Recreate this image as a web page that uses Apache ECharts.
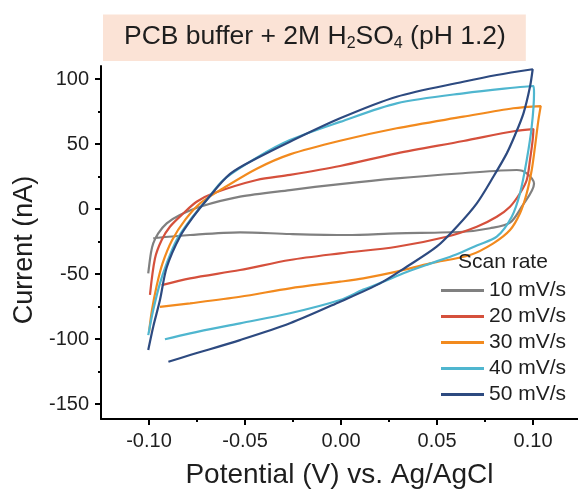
<!DOCTYPE html>
<html><head><meta charset="utf-8">
<script src="https://cdn.jsdelivr.net/npm/echarts@6/dist/echarts.min.js"></script>
<style>html,body{margin:0;padding:0;background:#fff}#c{width:578px;height:496px}</style>
</head><body><div id="c"></div>
<script>
const seriesNames = ['10 mV/s','20 mV/s','30 mV/s','40 mV/s','50 mV/s'];
// [potential (V), current (nA)] – forward sweep then reverse sweep
const cv10 = [[-0.1004,-49.5],[-0.099,-33.8],[-0.0978,-26.4],[-0.0952,-18.7],[-0.0908,-11],[-0.0839,-4.6],[-0.0734,1.8],[-0.0526,9.5],[-0.0266,14.6],[-0.0005,19.2],[0.029,23.6],[0.0635,27.5],[0.0915,30],[0.0967,27.5],[0.1005,19.5],[0.0941,1.8],[0.088,-10.5],[0.0776,-14.8],[0.0635,-17.5],[0.029,-18.7],[0.003,-20],[-0.0266,-19.2],[-0.0526,-17.9],[-0.0786,-20],[-0.0978,-22.5]];
const cv20 = [[-0.0995,-66],[-0.0969,-38],[-0.0934,-23.8],[-0.0891,-13.6],[-0.0821,-3.3],[-0.0752,5.6],[-0.0665,12.1],[-0.0439,22.3],[-0.0266,26.2],[-0.0005,33.1],[0.029,42.8],[0.0637,52.3],[0.0906,60],[0.1002,61.5],[0.0998,53.1],[0.0984,37.7],[0.0967,22.3],[0.0932,12.1],[0.088,1.8],[0.0811,-5.9],[0.0707,-13.6],[0.055,-21.3],[0.029,-29],[-0.0005,-34.1],[-0.0266,-39.2],[-0.0526,-46.9],[-0.0786,-53.3],[-0.0934,-58.5]];
const cv30 = [[-0.1,-95],[-0.0985,-78],[-0.096,-59],[-0.093,-42],[-0.088,-24],[-0.081,-8],[-0.0734,4.4],[-0.0613,16],[-0.0439,31],[-0.0266,42],[-0.0005,52.5],[0.029,62.1],[0.0637,71],[0.0897,77.5],[0.104,79.2],[0.1028,68.5],[0.101,47.9],[0.0993,30],[0.0967,12.1],[0.0932,-3.3],[0.088,-16.2],[0.0793,-26.4],[0.0672,-35.4],[0.0464,-41.8],[0.029,-48.2],[0.0116,-53.3],[-0.0005,-55.9],[-0.0266,-61],[-0.0526,-67.5],[-0.0786,-72.5],[-0.0943,-75.2]];
const cv40 = [[-0.1004,-97],[-0.0978,-77.7],[-0.0943,-57.2],[-0.0908,-41.8],[-0.0856,-23.8],[-0.0786,-8.5],[-0.07,6.9],[-0.0613,22.3],[-0.0439,39.5],[-0.0266,53],[-0.0005,67],[0.029,81.3],[0.0637,89],[0.1002,94.6],[0.1005,89],[0.0993,63.3],[0.0967,37.7],[0.0932,12.1],[0.0889,-5.9],[0.0811,-21.3],[0.0707,-28],[0.06,-35],[0.0464,-42],[0.0342,-48.5],[0.0203,-57],[0.0116,-62],[-0.0005,-70],[-0.0266,-80.2],[-0.0526,-87.9],[-0.0786,-95.6],[-0.0917,-100.2]];
const cv50 = [[-0.1004,-108.5],[-0.0978,-90.5],[-0.0943,-70],[-0.0908,-45],[-0.0839,-21.3],[-0.0769,-5.9],[-0.07,6.9],[-0.0578,27],[-0.0439,39],[-0.0266,51.8],[-0.0005,69.8],[0.029,86.4],[0.0637,97.9],[0.0811,103.1],[0.0998,107.5],[0.0984,94.1],[0.095,73.6],[0.0906,56.9],[0.0863,42.8],[0.0793,24.8],[0.0707,4.4],[0.0603,-13.6],[0.0498,-29],[0.0342,-44.4],[0.0203,-57.2],[-0.0005,-71.3],[-0.0266,-87.9],[-0.0526,-100.8],[-0.0786,-112.3],[-0.0899,-117.5]];
const xMajorTicks = [-0.10,-0.05,0,0.05,0.10];
const xMinorTicks = [-0.075,-0.025,0.025,0.075];
const yMajorTicks = [-150,-100,-50,0,50,100];
const yMinorTicks = [-125,-75,-25,25,75];
const colors = ['#808080','#d5503c','#f28a1e','#4fb6cf','#2d4a80'];
const allData = [cv10, cv20, cv30, cv40, cv50];
const FONT = '"Liberation Sans", Arial, sans-serif';
const TXT = '#1e1e1e';

const chart = echarts.init(document.getElementById('c'));
const axisLineStyle = {color:'#000', width:2};
const xRange = {min:-0.125, max:0.1234};
const yRange = {min:-161.5, max:110};

chart.setOption({
  animation:false,
  title:[{
    text:'{n|PCB buffer + 2M H}{s|2}{n|SO}{s|4}{n| (pH 1.2)}',
    left:103, top:13, padding:[9,20,9,21], backgroundColor:'#fbe3d6',
    textStyle:{fontWeight:'normal', rich:{
      n:{fontSize:26.5, fontFamily:FONT, color:TXT, lineHeight:30, fontWeight:'normal'},
      s:{fontSize:16, fontFamily:FONT, color:TXT, lineHeight:16, verticalAlign:'bottom', fontWeight:'normal'}
    }}
  },{
    text:'Scan rate', left:458, top:252, padding:0,
    textStyle:{fontSize:21, fontWeight:'normal', fontFamily:FONT, color:TXT}
  }],
  legend:{
    orient:'vertical', left:441, top:280, padding:0, itemWidth:43, itemHeight:3, itemGap:5,
    icon:'rect',
    textStyle:{fontSize:21, fontFamily:FONT, color:TXT, lineHeight:21},
    data:seriesNames
  },
  grid:{left:101, right:0, top:66, bottom:77},
  xAxis:[{
    type:'value', ...xRange, position:'bottom',
    axisLine:{show:true, onZero:false, lineStyle:axisLineStyle},
    axisTick:{show:true, length:6, lineStyle:axisLineStyle, customValues:xMajorTicks},
    axisLabel:{customValues:xMajorTicks, formatter:v=>v.toFixed(2), fontSize:20, fontFamily:FONT, color:TXT, margin:12},
    splitLine:{show:false},
    name:'Potential (V) vs. Ag/AgCl', nameLocation:'middle', nameGap:42,
    nameTextStyle:{fontSize:28, fontFamily:FONT, color:TXT}
  },{
    type:'value', ...xRange, position:'bottom',
    axisLine:{show:false, onZero:false},
    axisTick:{show:true, length:3, lineStyle:axisLineStyle, customValues:xMinorTicks},
    axisLabel:{show:false}, splitLine:{show:false}
  }],
  yAxis:[{
    type:'value', ...yRange, position:'left',
    axisLine:{show:true, onZero:false, lineStyle:axisLineStyle},
    axisTick:{show:true, length:6, lineStyle:axisLineStyle, customValues:yMajorTicks},
    axisLabel:{customValues:yMajorTicks, fontSize:20, fontFamily:FONT, color:TXT, margin:12},
    splitLine:{show:false},
    name:'Current (nA)', nameLocation:'middle', nameGap:62,
    nameTextStyle:{fontSize:27, fontFamily:FONT, color:TXT, padding:[0,15,0,0]}
  },{
    type:'value', ...yRange, position:'left',
    axisLine:{show:false, onZero:false},
    axisTick:{show:true, length:3, lineStyle:axisLineStyle, customValues:yMinorTicks},
    axisLabel:{show:false}, splitLine:{show:false}
  }],
  series: seriesNames.map((name,i)=>({
    name, type:'line', xAxisIndex:0, yAxisIndex:0,
    data: allData[i], symbol:'none', showSymbol:false, smooth:0.3,
    lineStyle:{width:2.2, color:colors[i]}, itemStyle:{color:colors[i]}
  }))
});
</script></body></html>
